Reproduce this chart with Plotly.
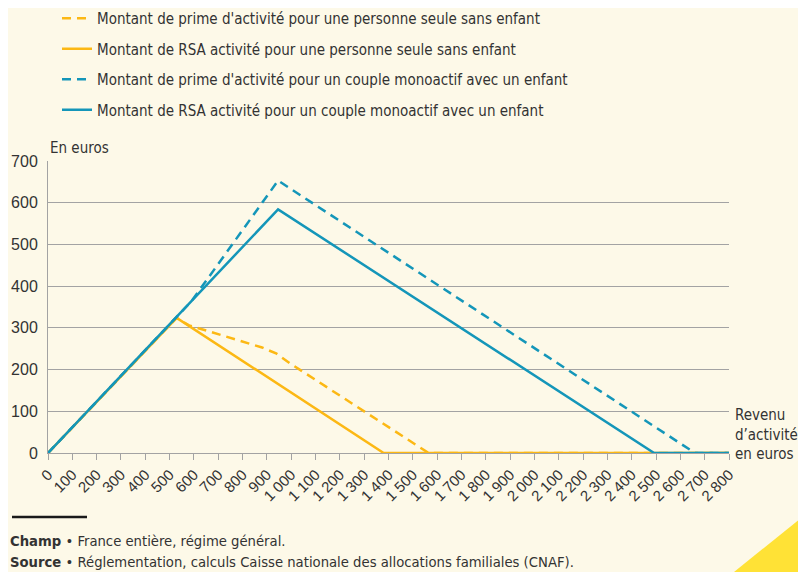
import plotly.graph_objects as go

# ---- data ----
single_rsa_x = [0, 529, 1380, 2800]
single_rsa_y = [0, 324, 0, 0]

single_prime_x = [0, 529, 580, 800, 880, 940, 1000, 1565, 2800]
single_prime_y = [0, 324, 306, 267, 253, 238, 213, 0, 0]

couple_rsa_x = [0, 946, 2492, 2800]
couple_rsa_y = [0, 584, 0, 0]

couple_prime_x = [0, 590, 946, 2660, 2800]
couple_prime_y = [0, 364, 653, 0, 0]

x_tick_vals = list(range(0, 2900, 100))
x_tick_text = ["0", "100", "200", "300", "400", "500", "600", "700", "800", "900",
               "1 000", "1 100", "1 200", "1 300", "1 400", "1 500", "1 600", "1 700",
               "1 800", "1 900", "2 000", "2 100", "2 200", "2 300", "2 400", "2 500",
               "2 600", "2 700", "2 800"]
y_tick_vals = [0, 100, 200, 300, 400, 500, 600, 700]

names = [
    "Montant de prime d'activité pour une personne seule sans enfant",
    "Montant de RSA activité pour une personne seule sans enfant",
    "Montant de prime d'activité pour un couple monoactif avec un enfant",
    "Montant de RSA activité pour un couple monoactif avec un enfant",
]

ORANGE = "#FCB814"
BLUE = "#1496B9"
BG = "#FDF9E8"
GRID = "#A3A3A3"
TXT = "#333333"
FONT = "DejaVu Sans Condensed, Liberation Sans Narrow, sans-serif"
NUMFONT = "Liberation Sans, Arial, sans-serif"
DASH = "9px,6px"

fig = go.Figure()
fig.add_trace(go.Scatter(x=single_prime_x, y=single_prime_y, mode="lines", name=names[0],
                         legendgroup="a", line=dict(color=ORANGE, width=2.5, dash=DASH)))
fig.add_trace(go.Scatter(x=single_rsa_x, y=single_rsa_y, mode="lines", name=names[1],
                         legendgroup="b", line=dict(color=ORANGE, width=2.5)))
fig.add_trace(go.Scatter(x=couple_prime_x, y=couple_prime_y, mode="lines", name=names[2],
                         legendgroup="c", line=dict(color=BLUE, width=2.5, dash=DASH)))
fig.add_trace(go.Scatter(x=couple_rsa_x, y=couple_rsa_y, mode="lines", name=names[3],
                         legendgroup="d", line=dict(color=BLUE, width=2.5)))

# page has an 8px body margin: figure is drawn at (8, 8)
OFF = 8
PAGE_W, PAGE_H = 806, 572
W, H = PAGE_W - OFF, PAGE_H - OFF
PL, PR, PT, PB = 48, 729, 161, 453          # plot area in page pixels
L, R, T, B = PL - OFF, PAGE_W - PR, PT - OFF, PAGE_H - PB
PW = PR - PL
PH = PB - PT


def px(xpage):
    return (xpage - PL) / PW


def py(ypage):
    return (PB - ypage) / PH


fig.update_layout(
    width=W, height=H,
    margin=dict(l=L, r=R, t=T, b=B, autoexpand=False),
    paper_bgcolor=BG, plot_bgcolor=BG,
    font=dict(family=FONT, size=15, color=TXT),
    showlegend=True,
    legend=dict(x=px(57), y=py(2), xanchor="left", yanchor="top",
                bgcolor="rgba(0,0,0,0)", tracegroupgap=8,
                font=dict(family=FONT, size=15, color=TXT)),
    xaxis=dict(range=[0, 2800], tickmode="array", tickvals=x_tick_vals, ticktext=x_tick_text,
               tickangle=-45, showgrid=False, zeroline=False, showline=True,
               linecolor=GRID, linewidth=1, ticks="outside", ticklen=6, tickcolor=GRID,
               tickfont=dict(family=NUMFONT, size=15, color=TXT)),
    yaxis=dict(range=[0, 700], tickmode="array", tickvals=y_tick_vals,
               showgrid=True, gridcolor=GRID, gridwidth=1, zeroline=False,
               showline=True, linecolor=GRID, linewidth=1, ticks="",
               ticklabelstandoff=6,
               tickfont=dict(family=NUMFONT, size=16, color=TXT)),
    annotations=[
        dict(text="En euros", xref="paper", yref="paper", x=0, y=py(148),
             xanchor="left", yanchor="middle", showarrow=False,
             font=dict(family=FONT, size=15, color=TXT)),
        dict(text="Revenu<br>d’activité<br>en euros", xref="paper", yref="paper",
             x=px(733), y=py(404), xanchor="left", yanchor="top", align="left",
             showarrow=False, font=dict(family=FONT, size=15, color=TXT)),
        dict(text="<b>Champ</b> • France entière, régime général.", xref="paper", yref="paper",
             x=px(8), y=py(540), xanchor="left", yanchor="middle", showarrow=False,
             font=dict(family=FONT, size=14.7, color=TXT)),
        dict(text="<b>Source</b> • Réglementation, calculs Caisse nationale des allocations familiales (CNAF).",
             xref="paper", yref="paper",
             x=px(8), y=py(561), xanchor="left", yanchor="middle", showarrow=False,
             font=dict(family=FONT, size=14.7, color=TXT)),
    ],
    shapes=[
        dict(type="line", xref="paper", yref="paper", x0=px(12), x1=px(87),
             y0=py(517), y1=py(517), line=dict(color="#1a1a1a", width=2.5)),
        dict(type="path", xref="paper", yref="paper",
             path=f"M {px(806)},{py(514)} L {px(806)},{py(572)} L {px(734)},{py(572)} Z",
             fillcolor="#FFE236", line=dict(width=0)),
    ],
)

fig.write_html("out.html")
